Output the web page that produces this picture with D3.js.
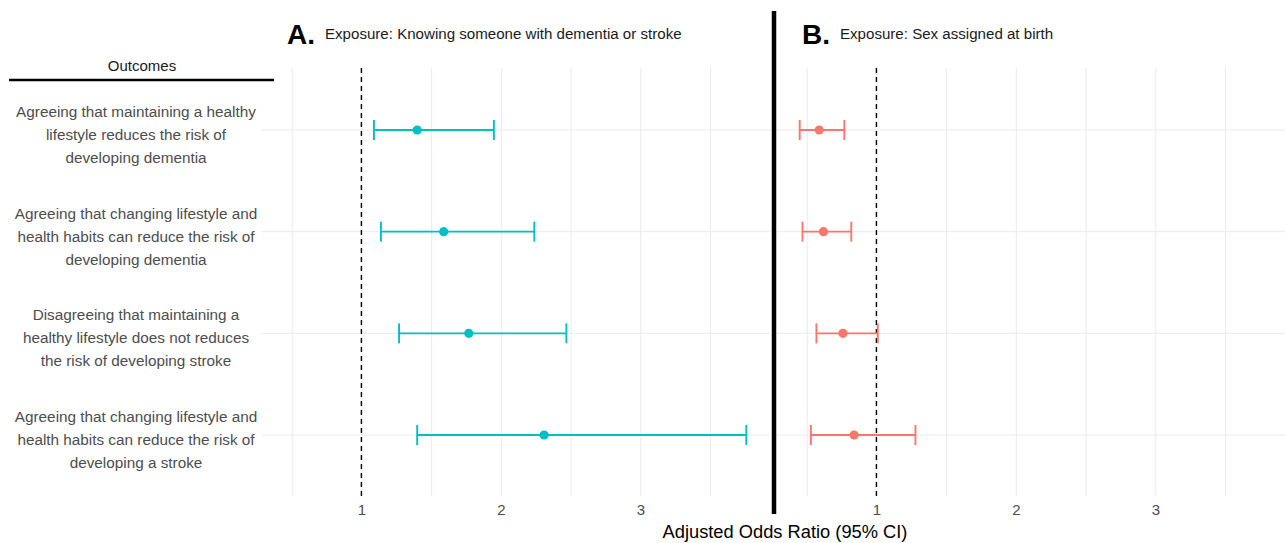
<!DOCTYPE html>
<html>
<head>
<meta charset="utf-8">
<script src="https://cdn.jsdelivr.net/npm/d3@7"></script>
<style>
  html, body { margin: 0; padding: 0; background: #fff; }
  svg { display: block; font-family: "Liberation Sans", Arial, Helvetica, sans-serif; }
  .tick text { fill: #4d4d4d; font-size: 15px; }
  .grid line { stroke: #ebebeb; stroke-width: 1; }
  .grid path, .axis path, .axis line { display: none; }
</style>
</head>
<body>
<div id="chart"></div>
<script>
// Outcomes (rows, top to bottom)
const outcomes = [
  ["Agreeing that maintaining a healthy", "lifestyle reduces the risk of", "developing dementia"],
  ["Agreeing that changing lifestyle and", "health habits can reduce the risk of", "developing dementia"],
  ["Disagreeing that maintaining a", "healthy lifestyle does not reduces", "the risk of developing stroke"],
  ["Agreeing that changing lifestyle and", "health habits can reduce the risk of", "developing a stroke"]
];

// Panel A: knowing someone with dementia or stroke
const aOR = [1.40, 1.59, 1.77, 2.31];
const aLow = [1.09, 1.14, 1.27, 1.40];
const aHigh = [1.95, 2.24, 2.47, 3.76];

// Panel B: sex assigned at birth
const bOR = [0.59, 0.62, 0.76, 0.84];
const bLow = [0.45, 0.47, 0.57, 0.53];
const bHigh = [0.77, 0.82, 1.01, 1.28];

const tickValues = [1, 2, 3];
const gridValues = [0.5, 1, 1.5, 2, 2.5, 3, 3.5];

const width = 1285, height = 543;
const svg = d3.select("#chart").append("svg").attr("width", width).attr("height", height);

const y = d3.scalePoint().domain(d3.range(outcomes.length)).range([130, 435]);
const gridTop = 68, gridBottom = 496;

const panels = [
  { letter: "A.", title: "Exposure: Knowing someone with dementia or stroke", range: [261, 770],
    or: aOR, lo: aLow, hi: aHigh, color: "#00BFC4", letterX: 287 },
  { letter: "B.", title: "Exposure: Sex assigned at birth", range: [776, 1285],
    or: bOR, lo: bLow, hi: bHigh, color: "#F8766D", letterX: 802 }
];

panels.forEach(p => {
  const x = d3.scaleLinear().domain([0.28, 3.93]).range(p.range);
  const g = svg.append("g");

  // vertical grid
  g.append("g").attr("class", "grid")
    .attr("transform", `translate(0,${gridBottom})`)
    .call(d3.axisBottom(x).tickValues(gridValues).tickSize(-(gridBottom - gridTop)).tickFormat(""));

  // horizontal grid
  g.append("g").attr("class", "grid")
    .selectAll("line").data(d3.range(outcomes.length)).join("line")
    .attr("x1", p.range[0]).attr("x2", p.range[1])
    .attr("y1", d => y(d)).attr("y2", d => y(d));

  // reference line at 1
  g.append("line")
    .attr("x1", x(1)).attr("x2", x(1))
    .attr("y1", gridTop).attr("y2", gridBottom)
    .attr("stroke", "#000").attr("stroke-width", 1.4).attr("stroke-dasharray", "5,4");

  // tick labels
  g.append("g").attr("class", "axis")
    .attr("transform", `translate(0,${gridBottom})`)
    .call(d3.axisBottom(x).tickValues(tickValues).tickSize(0).tickPadding(8).tickFormat(d3.format("d")));

  // error bars
  const rows = d3.range(outcomes.length);
  const cap = 10;
  const eb = g.append("g").attr("stroke", p.color).attr("stroke-width", 1.9);
  eb.selectAll("line.h").data(rows).join("line").attr("class", "h")
    .attr("x1", i => x(p.lo[i])).attr("x2", i => x(p.hi[i]))
    .attr("y1", i => y(i)).attr("y2", i => y(i));
  eb.selectAll("line.l").data(rows).join("line").attr("class", "l")
    .attr("x1", i => x(p.lo[i])).attr("x2", i => x(p.lo[i]))
    .attr("y1", i => y(i) - cap).attr("y2", i => y(i) + cap);
  eb.selectAll("line.r").data(rows).join("line").attr("class", "r")
    .attr("x1", i => x(p.hi[i])).attr("x2", i => x(p.hi[i]))
    .attr("y1", i => y(i) - cap).attr("y2", i => y(i) + cap);
  g.selectAll("circle").data(rows).join("circle")
    .attr("cx", i => x(p.or[i])).attr("cy", i => y(i)).attr("r", 4.6)
    .attr("fill", p.color);

  // panel title
  const t = svg.append("text").attr("x", p.letterX).attr("y", 44);
  t.append("tspan").attr("font-size", 28).attr("font-weight", "bold").attr("fill", "#000").text(p.letter);
  t.append("tspan").attr("dx", 10).attr("dy", -5).attr("font-size", 15.1).attr("fill", "#1a1a1a").text(p.title);
});

// thick divider
svg.append("line").attr("x1", 774).attr("x2", 774).attr("y1", 11).attr("y2", 514)
  .attr("stroke", "#000").attr("stroke-width", 4.5);

// outcomes header
svg.append("text").attr("x", 142).attr("y", 71).attr("text-anchor", "middle")
  .attr("font-size", 15).attr("fill", "#1a1a1a").text("Outcomes");
svg.append("line").attr("x1", 9).attr("x2", 274).attr("y1", 80).attr("y2", 80)
  .attr("stroke", "#000").attr("stroke-width", 2.5);

// outcome labels
const lab = svg.append("g").attr("font-size", 15.3).attr("fill", "#4d4d4d").attr("text-anchor", "middle");
outcomes.forEach((lines, i) => {
  const txt = lab.append("text");
  lines.forEach((s, k) => {
    txt.append("tspan").attr("x", 136).attr("y", y(i) + 10 + (k - 1) * 23).text(s);
  });
});

// x-axis title
svg.append("text").attr("x", 785).attr("y", 538).attr("text-anchor", "middle")
  .attr("font-size", 18.3).attr("fill", "#000").text("Adjusted Odds Ratio (95% CI)");
</script>
</body>
</html>
